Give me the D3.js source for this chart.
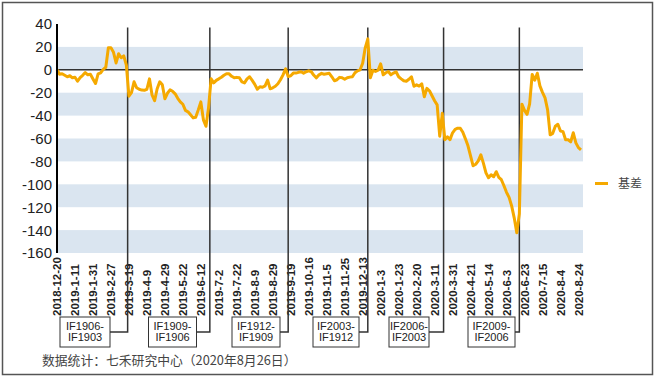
<!DOCTYPE html>
<html><head><meta charset="utf-8">
<script src="https://cdn.jsdelivr.net/npm/d3@7/dist/d3.min.js"></script>
<style>body{margin:0;background:#fff}svg{display:block}</style>
</head><body>
<svg id="c" width="656" height="379"></svg>
<script>
// ---- data ----
const tickLabels = ["2018-12-20","2019-1-11","2019-1-31","2019-2-27","2019-3-19","2019-4-9","2019-4-29","2019-5-22","2019-6-12","2019-7-2","2019-7-22","2019-8-9","2019-8-29","2019-9-19","2019-10-16","2019-11-5","2019-11-25","2019-12-13","2020-1-3","2020-1-23","2020-2-20","2020-3-11","2020-3-31","2020-4-21","2020-5-14","2020-6-3","2020-6-23","2020-7-15","2020-8-4","2020-8-24"];
const tickEvery = 14;           // trading days between labels
const tradingDays = 409;        // 2018-12-20 .. 2020-8-26
const sampleEvery = 2;          // one value every 2 trading days
const basis = [0,-3.9,-3.5,-4.8,-6.1,-5.2,-7,-6.5,-10,-6.8,-4.8,-2.4,-4.4,-3.9,-8,-12,-3.5,-2.6,0.4,2.2,
19.2,19.2,15.3,6,14,10.5,12.2,4,-23,-20,-10.5,-15.7,-17,-17.7,-17.9,-17,-7.9,-22,-27,-16.6,
-10.5,-13.1,-25.3,-20.5,-17.5,-18.8,-21,-24.9,-28,-30.1,-35.5,-36.7,-39.3,-42,-41.5,-35,-28,-43.7,-49.3,-33,
-7.9,-11.4,-9.2,-7.9,-6.5,-4.8,-3.5,-3.5,-5.7,-7,-6.6,-7,-10.5,-11.4,-7.9,-6.1,-9.2,-12.7,-17,-14.8,
-15.3,-14,-9,-16.6,-15.7,-14.4,-12.2,-8.7,-4.4,0.9,-5.8,-5.2,-2.9,-2.9,-2.2,-1.7,-2.9,-1.7,-0.9,-1.7,
-4.8,-7,-4.4,-3.1,-3.9,-3.5,-3.1,-6.1,-9.6,-8.7,-6.6,-7,-8.3,-7,-6.4,-6.1,-2.6,-0.9,0,5.7,
19.2,27,-7,-0.4,-1.5,-0.4,5.2,-4.4,-2.6,-1.5,-4.4,-2.9,-1.7,-6.1,-7.9,-9.6,-10,-8.3,-6.1,-14.4,
-13.1,-14.2,-12.2,-23.6,-16.2,-18.3,-22.7,-27,-30.6,-58,-38,-61,-58.5,-61,-55,-52,-51,-51,-54.6,-60.3,
-66.4,-75.1,-83.8,-82.5,-79.5,-74.2,-81.5,-90,-94.3,-91.7,-93.4,-89,-93.9,-96,-101.3,-107,-111.4,-118.8,-129.3,-142.4,
-125.8,-30,-35.4,-38.9,-29.7,-4,-9,-3,-14,-19.7,-24.5,-35,-56.8,-55.5,-49.3,-47.6,-53.5,-54,-61.1,-61.1,
-62.9,-55,-63.8,-68,-70];
const yTicks = [40,20,0,-20,-40,-60,-80,-100,-120,-140,-160];
const bandRanges = [[0,20],[-40,-20],[-80,-60],[-120,-100],[-160,-140]];
const rollIndex = [55,119,180,242,301,360];
const rollLabels = [["IF1906-","IF1903"],["IF1909-","IF1906"],["IF1912-","IF1909"],["IF2003-","IF1912"],["IF2006-","IF2003"],["IF2009-","IF2006"]];
const seriesName = "基差";
const footnote = "数据统计：七禾研究中心（2020年8月26日）";

// ---- layout ----
const boxCx = [85,172.5,256,336,409,491.5];
const boxW  = [50,48,48,46,40,47];
const latin = "'Liberation Sans', Arial, sans-serif";
const cjk = "'Noto Sans CJK SC', 'Liberation Sans', sans-serif";

const svg = d3.select("#c");
const x = d3.scaleLinear().domain([0, tradingDays-1]).range([57, 581]);
const y = d3.scaleLinear().domain([-160, 40]).range([253, 24]);
const plotRight = 583;

// frame
svg.append("rect").attr("x",2.5).attr("y",2.5).attr("width",650).attr("height",372)
  .attr("fill","#fff").attr("stroke","#555").attr("stroke-width",1.5);

// bands
svg.append("g").selectAll("rect").data(bandRanges).join("rect")
  .attr("x", x(0)).attr("width", plotRight - x(0))
  .attr("y", d=>y(d[1])).attr("height", d=>y(d[0])-y(d[1]))
  .attr("fill","#dae5f0");

// y tick labels
svg.append("g").selectAll("text").data(yTicks).join("text")
  .attr("x",52).attr("y",d=>y(d)).attr("dy","0.36em")
  .attr("text-anchor","end").attr("font-family",latin).attr("font-size",15).attr("fill","#222")
  .text(d=>d);

// zero line
svg.append("line").attr("x1",x(0)).attr("x2",plotRight).attr("y1",y(0)).attr("y2",y(0))
  .attr("stroke","#333").attr("stroke-width",1.5);

// x tick labels (rotated)
svg.append("g").selectAll("text").data(tickLabels).join("text")
  .attr("transform",(d,i)=>`translate(${x(i*tickEvery)},316) rotate(-90)`)
  .attr("dy","0.36em").attr("text-anchor","start")
  .attr("font-family",latin).attr("font-size",11.5).attr("font-weight","bold").attr("fill","#222")
  .text(d=>d);

// roll event lines + boxes
const ev = svg.append("g");
rollIndex.forEach((ri,i)=>{
  const lx = x(ri), bx = boxCx[i], bw = boxW[i];
  ev.append("path").attr("d",`M${lx},${y(37)}V332H${bx+bw/2}`)
    .attr("fill","none").attr("stroke","#333").attr("stroke-width",1.5);
});

// series line
const line = d3.line().x((d,i)=>x(i*sampleEvery)).y(d=>y(d)).curve(d3.curveLinear);
svg.append("path").datum(basis).attr("d",line).attr("fill","none")
  .attr("stroke","#f5a900").attr("stroke-width",3).attr("stroke-linejoin","round");

// y axis line
svg.append("line").attr("x1",x(0)).attr("x2",x(0)).attr("y1",y(40)).attr("y2",y(-160))
  .attr("stroke","#000").attr("stroke-width",2);

rollIndex.forEach((ri,i)=>{
  const bx = boxCx[i], bw = boxW[i];
  ev.append("rect").attr("x",bx-bw/2).attr("y",317).attr("width",bw).attr("height",30)
    .attr("fill","#fff").attr("stroke","#333").attr("stroke-width",1);
  rollLabels[i].forEach((t,j)=>{
    ev.append("text").attr("x",bx).attr("y",330+j*11).attr("text-anchor","middle")
      .attr("font-family",latin).attr("font-size",11).attr("fill","#222").text(t);
  });
});

// legend
svg.append("line").attr("x1",595).attr("x2",608).attr("y1",183.5).attr("y2",183.5)
  .attr("stroke","#f5a900").attr("stroke-width",3);
svg.append("text").attr("x",618).attr("y",183.5).attr("dy","0.36em")
  .attr("font-family",cjk).attr("font-size",12).attr("fill","#444").text(seriesName);

// footnote
svg.append("text").attr("x",42).attr("y",364.5)
  .attr("font-family",cjk).attr("font-size",12.8).attr("fill","#444").text(footnote);
</script>
</body></html>
